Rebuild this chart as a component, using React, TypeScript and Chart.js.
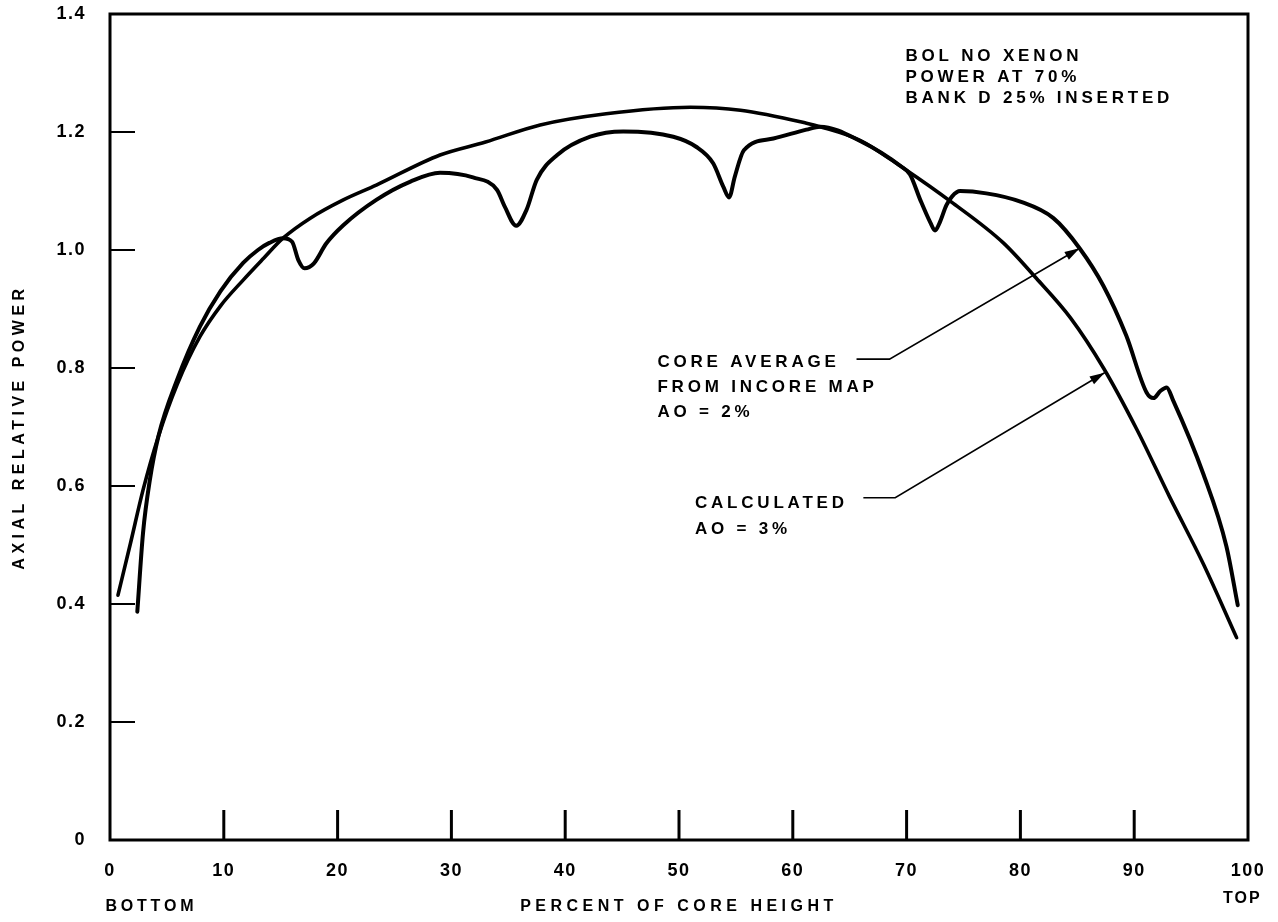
import { useEffect, useRef } from 'react';
import { Chart, registerables } from 'chart.js';

Chart.register(...registerables);

// ---- data (percent of core height, axial relative power) ----
const calcX = [0.7, 1.8, 2.9, 4.25, 5.9, 7.9, 9.7, 11.7, 13.5, 15.2, 17.6, 20.5, 23.4, 29.0, 33.0, 37.8, 43.6, 51.0, 55.4, 61.2, 62.4, 65.9, 69.7, 74.1, 78.5, 81.4, 84.4, 87.3, 90.2, 93.1, 96.1, 99.0];
const calcY = [0.415, 0.503, 0.593, 0.684, 0.772, 0.853, 0.905, 0.949, 0.986, 1.02, 1.054, 1.085, 1.11, 1.161, 1.183, 1.212, 1.231, 1.242, 1.237, 1.215, 1.209, 1.186, 1.139, 1.079, 1.012, 0.952, 0.885, 0.8, 0.697, 0.582, 0.467, 0.343];

const incoreX = [2.4, 2.9, 3.5, 4.25, 5.9, 7.9, 9.7, 11.7, 13.0, 14.0, 15.2, 16.0, 16.55, 17.1, 17.9, 19.0, 20.5, 23.4, 26.4, 29.0, 31.9, 34.0, 34.7, 35.7, 36.6, 37.5, 39.3, 42.2, 45.1, 49.5, 51.5, 53.0, 53.9, 54.4, 54.9, 55.7, 58.3, 61.2, 62.4, 66.0, 69.5, 70.3, 71.2, 72.1, 72.5, 72.9, 73.5, 74.0, 74.7, 77.0, 80.0, 82.9, 85.2, 87.3, 89.3, 91.1, 91.7, 92.3, 92.85, 93.4, 96.1, 98.1, 99.1];
const incoreY = [0.387, 0.52, 0.61, 0.684, 0.78, 0.87, 0.93, 0.978, 1.0, 1.012, 1.02, 1.014, 0.983, 0.969, 0.977, 1.011, 1.042, 1.085, 1.116, 1.131, 1.123, 1.102, 1.073, 1.041, 1.068, 1.119, 1.161, 1.192, 1.201, 1.192, 1.175, 1.147, 1.107, 1.089, 1.124, 1.169, 1.189, 1.204, 1.209, 1.184, 1.142, 1.128, 1.085, 1.046, 1.033, 1.046, 1.076, 1.091, 1.1, 1.096, 1.082, 1.054, 1.003, 0.939, 0.855, 0.758, 0.749, 0.761, 0.767, 0.746, 0.619, 0.498, 0.398];

const xTickLabels = ['0', '10', '20', '30', '40', '50', '60', '70', '80', '90', '100'];
const yTickLabels = ['0', '0.2', '0.4', '0.6', '0.8', '1.0', '1.2', '1.4'];

// ---- annotation texts (anchors in data units) ----
const noteLines = ['BOL NO XENON', 'POWER AT 70%', 'BANK D 25% INSERTED'];
const noteX = 69.9;
const noteY = [1.32, 1.285, 1.249];

const coreLines = ['CORE AVERAGE', 'FROM INCORE MAP', 'AO = 2%'];
const coreX = 48.1;
const coreY = [0.802, 0.759, 0.717];
const coreLeader = [[65.6, 0.815], [68.5, 0.815], [85.2, 1.003]];

const calcLines = ['CALCULATED', 'AO = 3%'];
const calcLX = 51.4;
const calcLY = [0.563, 0.519];
const calcLeader = [[66.2, 0.58], [69.0, 0.58], [87.4, 0.792]];

const edgeLabels = [
  { text: 'BOTTOM', x: -0.4, y: -0.1136, align: 'left' },
  { text: 'TOP', x: 99.5, y: -0.1, align: 'center' },
];

const FONT = '"Liberation Sans", Arial, Helvetica, sans-serif';

const toPts = (xs: number[], ys: number[]) => xs.map((x, i) => ({ x, y: ys[i] }));

const decorPlugin = {
  id: 'decor',
  beforeDraw(chart: any) {
    const ctx = chart.ctx;
    ctx.letterSpacing = '1.5px';
    Object.values(chart.scales).forEach((s: any) => {
      if (!s.__wrapped) {
        const orig = s.drawTitle.bind(s);
        s.drawTitle = (...args: any[]) => {
          const prev = ctx.letterSpacing;
          ctx.letterSpacing = '4.5px';
          orig(...args);
          ctx.letterSpacing = prev;
        };
        s.__wrapped = true;
      }
    });
  },
  beforeDatasetsDraw(chart: any) {
    const { ctx, chartArea: a, scales } = chart;
    const xs = scales.x;
    const ys = scales.y;
    ctx.save();
    ctx.strokeStyle = '#000';
    ctx.lineCap = 'butt';
    // inward tick marks
    ctx.lineWidth = 3;
    xs.ticks.forEach((t: any) => {
      if (t.value <= xs.min || t.value >= xs.max) return;
      const px = xs.getPixelForValue(t.value);
      ctx.beginPath();
      ctx.moveTo(px, a.bottom);
      ctx.lineTo(px, a.bottom - 30);
      ctx.stroke();
    });
    ctx.lineWidth = 2;
    ys.ticks.forEach((t: any) => {
      if (t.value <= ys.min || t.value >= ys.max) return;
      const py = ys.getPixelForValue(t.value);
      ctx.beginPath();
      ctx.moveTo(a.left, py);
      ctx.lineTo(a.left + 25, py);
      ctx.stroke();
    });
    // frame
    ctx.lineWidth = 3;
    ctx.strokeRect(a.left, a.top, a.right - a.left, a.bottom - a.top);
    ctx.restore();
  },
  afterDraw(chart: any) {
    const { ctx, scales } = chart;
    const xs = scales.x;
    const ys = scales.y;
    const X = (v: number) => xs.getPixelForValue(v);
    const Y = (v: number) => ys.getPixelForValue(v);
    ctx.save();
    ctx.fillStyle = '#000';
    ctx.strokeStyle = '#000';
    ctx.textBaseline = 'alphabetic';
    ctx.textAlign = 'left';
    ctx.font = `bold 17px ${FONT}`;
    ctx.letterSpacing = '3.8px';
    const block = (lines: string[], x: number, yv: number[]) =>
      lines.forEach((l, i) => ctx.fillText(l, X(x), Y(yv[i])));
    block(noteLines, noteX, noteY);
    block(coreLines, coreX, coreY);
    block(calcLines, calcLX, calcLY);

    ctx.font = `bold 16px ${FONT}`;
    ctx.textBaseline = 'middle';
    edgeLabels.forEach((e) => {
      ctx.letterSpacing = e.align === 'left' ? '3.8px' : '2px';
      ctx.textAlign = e.align as CanvasTextAlign;
      ctx.fillText(e.text, X(e.x), Y(e.y));
    });

    const leader = (pts: number[][]) => {
      ctx.lineWidth = 1.6;
      ctx.beginPath();
      pts.forEach((p, i) => (i ? ctx.lineTo(X(p[0]), Y(p[1])) : ctx.moveTo(X(p[0]), Y(p[1]))));
      ctx.stroke();
      const [ax, ay] = pts[pts.length - 2];
      const [bx, by] = pts[pts.length - 1];
      const x1 = X(ax), y1 = Y(ay), x2 = X(bx), y2 = Y(by);
      const ang = Math.atan2(y2 - y1, x2 - x1);
      const len = 15, hw = 4.5;
      ctx.beginPath();
      ctx.moveTo(x2, y2);
      ctx.lineTo(x2 - len * Math.cos(ang) + hw * Math.sin(ang), y2 - len * Math.sin(ang) - hw * Math.cos(ang));
      ctx.lineTo(x2 - len * Math.cos(ang) - hw * Math.sin(ang), y2 - len * Math.sin(ang) + hw * Math.cos(ang));
      ctx.closePath();
      ctx.fill();
    };
    leader(coreLeader);
    leader(calcLeader);
    ctx.restore();
  },
};

export default function App() {
  const ref = useRef<HTMLCanvasElement | null>(null);
  useEffect(() => {
    if (!ref.current) return;
    const chart = new Chart(ref.current, {
      type: 'scatter',
      data: {
        datasets: [
          {
            label: 'Calculated AO = 3%',
            data: toPts(calcX, calcY),
            showLine: true,
            borderColor: '#000',
            borderWidth: 3.6,
            pointRadius: 0,
            cubicInterpolationMode: 'monotone',
            borderCapStyle: 'round',
            borderJoinStyle: 'round',
            fill: false,
          },
          {
            label: 'Core average from incore map AO = 2%',
            data: toPts(incoreX, incoreY),
            showLine: true,
            borderColor: '#000',
            borderWidth: 4,
            pointRadius: 0,
            cubicInterpolationMode: 'monotone',
            borderCapStyle: 'round',
            borderJoinStyle: 'round',
            fill: false,
          },
        ],
      },
      options: {
        responsive: false,
        devicePixelRatio: 1,
        animation: false,
        layout: { padding: { top: 14, right: 30, left: 0, bottom: 0 } },
        plugins: { legend: { display: false }, tooltip: { enabled: false } },
        scales: {
          x: {
            type: 'linear',
            min: 0,
            max: 100,
            grid: { display: false, drawTicks: false },
            border: { display: false },
            ticks: {
              stepSize: 10,
              color: '#000',
              padding: 20,
              maxRotation: 0,
              font: { family: FONT, size: 18, weight: 'bold' },
              callback: (_v: any, i: number) => xTickLabels[i],
            },
            title: {
              display: true,
              text: 'PERCENT OF CORE HEIGHT',
              color: '#000',
              font: { family: FONT, size: 16, weight: 'bold' },
              padding: { top: 0, bottom: 6 },
            },
            afterFit: (s: any) => {
              s.height = 82;
              s.paddingLeft = 0;
              s.paddingRight = 0;
            },
          },
          y: {
            type: 'linear',
            min: 0,
            max: 1.4,
            grid: { display: false, drawTicks: false },
            border: { display: false },
            ticks: {
              stepSize: 0.2,
              color: '#000',
              padding: 24,
              font: { family: FONT, size: 18, weight: 'bold' },
              callback: (_v: any, i: number) => yTickLabels[i],
            },
            title: {
              display: true,
              text: 'AXIAL RELATIVE POWER',
              color: '#000',
              font: { family: FONT, size: 16, weight: 'bold' },
              padding: { top: 10, bottom: 0 },
            },
            afterFit: (s: any) => {
              s.width = 110;
              s.paddingTop = 0;
              s.paddingBottom = 0;
            },
          },
        },
      },
      plugins: [decorPlugin],
    } as any);
    return () => chart.destroy();
  }, []);
  return (
    <div style={{ position: 'fixed', left: 0, top: 0, width: 1278, height: 922, background: '#fff' }}>
      <canvas ref={ref} width={1278} height={922} style={{ display: 'block' }} />
    </div>
  );
}
